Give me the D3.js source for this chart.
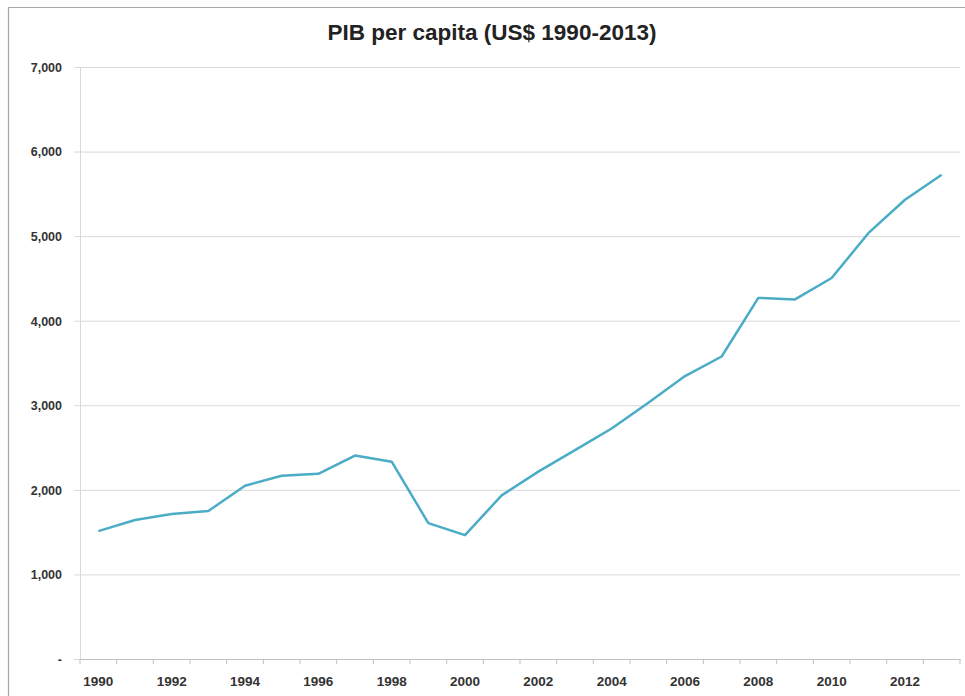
<!DOCTYPE html>
<html><head><meta charset="utf-8">
<script src="https://cdn.jsdelivr.net/npm/d3@7"></script>
<style>html,body{margin:0;padding:0;background:#fff;}</style>
</head><body>
<script>
const title = "PIB per capita (US$ 1990-2013)";
const years = [1990,1991,1992,1993,1994,1995,1996,1997,1998,1999,2000,2001,2002,2003,2004,2005,2006,2007,2008,2009,2010,2011,2012,2013];
const gdpPerCapita = [1512,1643,1714,1750,2048,2167,2190,2405,2333,1607,1464,1935,2215,2470,2725,3030,3345,3577,4270,4252,4505,5035,5430,5725];
const yTicks = [0,1000,2000,3000,4000,5000,6000,7000];
const xLabelYears = [1990,1992,1994,1996,1998,2000,2002,2004,2006,2008,2010,2012];

const W = 965, H = 696;
const svg = d3.select("body").append("svg").attr("width", W).attr("height", H);
const m = {left: 80, right: 960, top: 67, bottom: 659};

// frame
svg.append("path").attr("d", `M8.5,${H} V7.5 H${W}`).attr("fill","none").attr("stroke","#a6a6a6").attr("stroke-width",1.2);

const x = d3.scaleBand().domain(years).range([m.left, m.right]);
const y = d3.scaleLinear().domain([0, 7000]).range([m.bottom, m.top]);

// gridlines + y axis
const yAxis = d3.axisLeft(y).tickValues(yTicks).tickSize(-(m.right - m.left)).tickSizeOuter(0)
  .tickFormat(d => d === 0 ? "-" : d3.format(",")(d));
const gy = svg.append("g").attr("transform", `translate(${m.left},0)`).call(yAxis);
gy.select(".domain").attr("stroke","#d9d9d9");
gy.selectAll(".tick line").attr("stroke","#d9d9d9").attr("x1", -6);
gy.selectAll(".tick text").attr("x", -18).attr("dy","0.35em")
  .style("font-family","'Liberation Sans', Arial, sans-serif").style("font-size","12.5px").style("font-weight","bold").attr("fill","#333");

// x axis
const gx = svg.append("g").attr("transform", `translate(0,${m.bottom})`)
  .call(d3.axisBottom(x).tickValues(xLabelYears).tickSize(0).tickSizeOuter(0));
gx.select(".domain").attr("stroke","#bfbfbf").attr("stroke-width",1.2);
gx.selectAll(".tick text").attr("dy","0.71em").attr("y", 17)
  .style("font-family","'Liberation Sans', Arial, sans-serif").style("font-size","13.5px").style("font-weight","bold").attr("fill","#333");
// category-boundary tick marks
svg.append("g").selectAll("line").data(years.concat([null])).join("line")
  .attr("x1", (d,i) => m.left + i * x.step()).attr("x2", (d,i) => m.left + i * x.step())
  .attr("y1", m.bottom).attr("y2", m.bottom + 5).attr("stroke","#bfbfbf");

// line
const line = d3.line().x((d,i) => x(years[i]) + x.bandwidth()/2).y(d => y(d));
svg.append("path").datum(gdpPerCapita).attr("d", line)
  .attr("fill","none").attr("stroke","#4bacc6").attr("stroke-width",2.5).attr("stroke-linejoin","round");

// title
svg.append("text").attr("x", 492).attr("y", 40).attr("text-anchor","middle")
  .style("font-family","'Liberation Sans Narrow', 'Liberation Sans', Arial, sans-serif").style("font-size","22.5px").style("font-weight","bold")
  .attr("fill","#222").text(title);
</script>
</body></html>
